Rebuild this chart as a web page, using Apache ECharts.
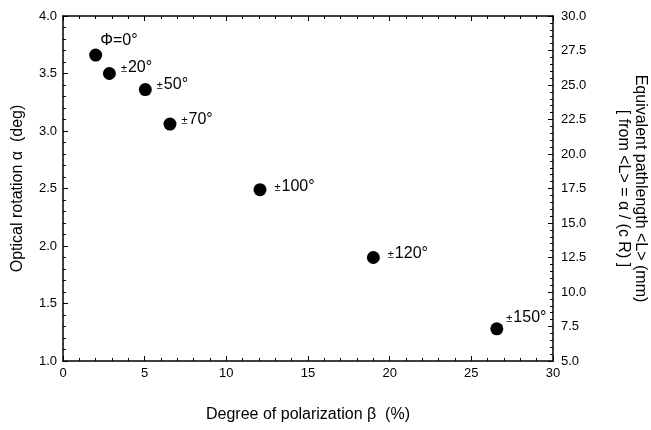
<!DOCTYPE html>
<html>
<head>
<meta charset="utf-8">
<script src="https://cdn.jsdelivr.net/npm/echarts@6/dist/echarts.min.js"></script>
<style>html,body{margin:0;padding:0;background:#fff}#c{width:651px;height:430px}</style>
</head>
<body>
<div id="c"></div>
<script>
// Data
const beta = [2.0, 2.84, 5.04, 6.55, 12.06, 19.0, 26.56];
const alpha = [3.66, 3.50, 3.36, 3.06, 2.49, 1.90, 1.28];
const phiLabels = ['Φ=0°', '±20°', '±50°', '±70°', '±100°', '±120°', '±150°'];
const xTicks = [0, 5, 10, 15, 20, 25, 30];
const yLeftTicks = [1.0, 1.5, 2.0, 2.5, 3.0, 3.5, 4.0];
const yRightTicks = [5.0, 7.5, 10.0, 12.5, 15.0, 17.5, 20.0, 22.5, 25.0, 27.5, 30.0];

// label placement tweaks (style only)
const labelOffsets = [[-7, -15], [0, -6], [0, -5], [0, -5], [3, -3], [3, -4], [-2, -11]];

const font = 'Liberation Sans, Arial, sans-serif';

function richLabel(s) {
  if (s.startsWith('±')) return '{pm|±}{n|' + s.slice(1) + '}';
  return '{n|' + s + '}';
}

const data = beta.map((b, i) => ({
  value: [b, alpha[i]],
  label: { offset: labelOffsets[i], formatter: richLabel(phiLabels[i]) }
}));

const chart = echarts.init(document.getElementById('c'), null, { renderer: 'canvas' });
const axisCommon = {
  axisLine: { show: true, onZero: false, lineStyle: { color: '#000', width: 1.5 } },
  axisTick: { show: true, inside: true, length: 5, lineStyle: { color: '#000', width: 1 } },
  minorTick: { show: true, splitNumber: 5, length: 3, lineStyle: { color: '#000', width: 1 } },
  splitLine: { show: false },
  axisLabel: { color: '#000', fontFamily: font, fontSize: 13 }
};
const titleStyle = { color: '#000', fontFamily: font, fontSize: 16 };
chart.setOption({
  animation: false,
  backgroundColor: '#fff',
  grid: { left: 63, right: 98, top: 16, bottom: 69, containLabel: false, outerBoundsMode: 'none' },
  xAxis: [
    Object.assign({}, axisCommon, {
      type: 'value', position: 'bottom', min: xTicks[0], max: xTicks[xTicks.length - 1], interval: 5,
      name: 'Degree of polarization β  (%)', nameLocation: 'middle', nameGap: 46,
      nameTextStyle: titleStyle,
      axisLabel: Object.assign({}, axisCommon.axisLabel, { margin: 6 })
    }),
    Object.assign({}, axisCommon, {
      type: 'value', position: 'top', min: xTicks[0], max: xTicks[xTicks.length - 1], interval: 5,
      axisLabel: { show: false }
    })
  ],
  yAxis: [
    Object.assign({}, axisCommon, {
      type: 'value', position: 'left', min: yLeftTicks[0], max: yLeftTicks[yLeftTicks.length - 1], interval: 0.5,
      name: 'Optical rotation α  (deg)', nameLocation: 'middle', nameGap: 37, nameRotate: 90,
      nameTextStyle: titleStyle,
      axisLabel: Object.assign({}, axisCommon.axisLabel, { margin: 6, formatter: v => v.toFixed(1) })
    }),
    Object.assign({}, axisCommon, {
      type: 'value', position: 'right', min: yRightTicks[0], max: yRightTicks[yRightTicks.length - 1], interval: 2.5,
      name: 'Equivalent pathlength <L> (mm)\n[ from <L> = α / (c R) ]', nameLocation: 'middle', nameGap: 62, nameRotate: -90,
      nameTextStyle: Object.assign({}, titleStyle, { lineHeight: 17, align: 'center' }),
      axisLabel: Object.assign({}, axisCommon.axisLabel, { margin: 8, formatter: v => v.toFixed(1) })
    })
  ],
  series: [{
    type: 'scatter', xAxisIndex: 0, yAxisIndex: 0,
    symbol: 'circle', symbolSize: 13,
    itemStyle: { color: '#000', opacity: 1 },
    label: {
      show: true, position: 'right', distance: 5, color: '#000',
      rich: {
        pm: { fontSize: 11, fontFamily: font, color: '#000', padding: [3, 1, 0, 0] },
        n: { fontSize: 16, fontFamily: font, color: '#000' }
      }
    },
    data: data
  }]
});
</script>
</body>
</html>
